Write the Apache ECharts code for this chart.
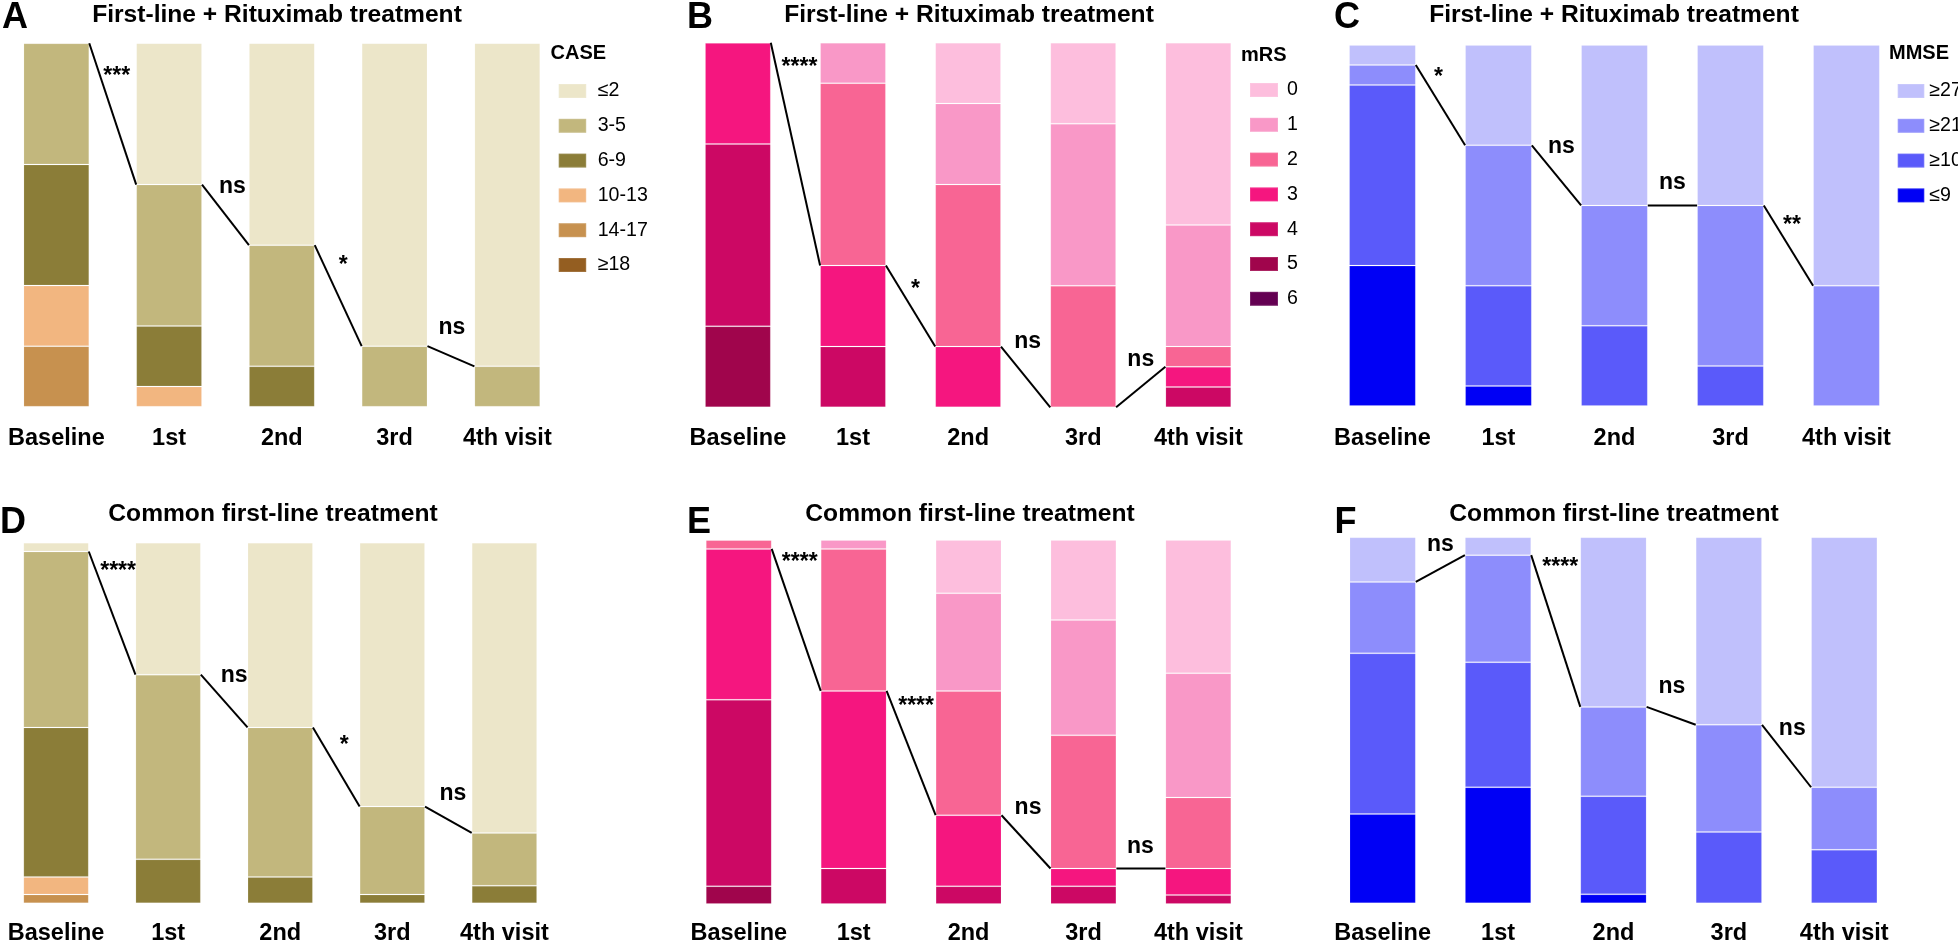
<!DOCTYPE html>
<html><head><meta charset="utf-8">
<script src="https://cdn.jsdelivr.net/npm/echarts@6/dist/echarts.min.js"></script>
<style>html,body{margin:0;padding:0;background:#fff;overflow:hidden}#c{width:1958px;height:946px}</style>
</head><body><div id="c"></div><script>
// ---------- categories ----------
const visits = ['Baseline', '1st', '2nd', '3rd', '4th visit'];
const caseCats = ['≤2', '3-5', '6-9', '10-13', '14-17', '≥18'];
const mrsCats = ['0', '1', '2', '3', '4', '5', '6'];
const mmseCats = ['≥27', '≥21', '≥10', '≤9'];

// ---------- patient counts per category (rows follow category order, columns follow visits) ----------
// First-line + Rituximab (n = 18)
const caseRitux = [
  [0, 7, 10, 15, 16],
  [6, 7, 6, 3, 2],
  [6, 3, 2, 0, 0],
  [3, 1, 0, 0, 0],
  [3, 0, 0, 0, 0],
  [0, 0, 0, 0, 0]
];
const mrsRitux = [
  [0, 0, 3, 4, 9],
  [0, 2, 4, 8, 6],
  [0, 9, 8, 6, 1],
  [5, 4, 3, 0, 1],
  [9, 3, 0, 0, 1],
  [4, 0, 0, 0, 0],
  [0, 0, 0, 0, 0]
];
const mmseRitux = [
  [1, 5, 8, 8, 12],
  [1, 7, 6, 8, 6],
  [9, 5, 4, 2, 0],
  [7, 1, 0, 0, 0]
];
// Common first-line (n = 41)
const caseCommon = [
  [1, 15, 21, 30, 33],
  [20, 21, 17, 10, 6],
  [17, 5, 3, 1, 2],
  [2, 0, 0, 0, 0],
  [1, 0, 0, 0, 0],
  [0, 0, 0, 0, 0]
];
const mrsCommon = [
  [0, 0, 6, 9, 15],
  [0, 1, 11, 13, 14],
  [1, 16, 14, 15, 8],
  [17, 20, 8, 2, 3],
  [21, 4, 2, 2, 1],
  [2, 0, 0, 0, 0],
  [0, 0, 0, 0, 0]
];
const mmseCommon = [
  [5, 2, 19, 21, 28],
  [8, 12, 10, 12, 7],
  [18, 14, 11, 8, 6],
  [10, 13, 1, 0, 0]
];

// ---------- significance labels between visits ----------
const sigA = ['***', 'ns', '*', 'ns'];
const sigB = ['****', '*', 'ns', 'ns'];
const sigC = ['*', 'ns', 'ns', '**'];
const sigD = ['****', 'ns', '*', 'ns'];
const sigE = ['****', '****', 'ns', 'ns'];
const sigF = ['ns', '****', 'ns', 'ns'];

// ---------- styles ----------
const caseColors = ['#ECE6C9', '#C2B77D', '#8B7D38', '#F2B680', '#C7914F', '#945E21'];
const mrsColors = ['#FDBEDD', '#F998C7', '#F86594', '#F5167F', '#CC0864', '#A0054C', '#640052'];
const mmseColors = ['#C0C0FC', '#8D8DFC', '#5A5AFA', '#0000F5'];
const FONT = '"Liberation Sans", Arial, Helvetica, sans-serif';

const panels = [
  {letter: 'A', title: 'First-line + Rituximab treatment', cats: caseCats, colors: caseColors, data: caseRitux, sig: sigA, split: 1,
   grid: {left: -6.63, top: 43.3, width: 570.3, height: 363.4}, bw: 65.8, margin: 20,
   letterXY: [2, 18.1], titleXY: [277, 15.2], labelY: [90.9, 60.6, 38.8, 21.8], labelDx: [4, 7, 5, 1]},
  {letter: 'B', title: 'First-line + Rituximab treatment', cats: mrsCats, colors: mrsColors, data: mrsRitux, sig: sigB, split: 3,
   grid: {left: 680.35, top: 42.7, width: 575.5, height: 364.6}, bw: 65.8, margin: 19.7,
   letterXY: [687, 18.1], titleXY: [969, 15.2], labelY: [93.2, 32.3, 18.0, 13.2], labelDx: [4, 5, 2, 0]},
  {letter: 'C', title: 'First-line + Rituximab treatment', cats: mmseCats, colors: mmseColors, data: mmseRitux, sig: sigC, split: 1,
   grid: {left: 1324.45, top: 45, width: 580, height: 361}, bw: 66.7, margin: 21,
   letterXY: [1334, 18.1], titleXY: [1614, 15.2], labelY: [91.0, 71.8, 62.0, 50.0], labelDx: [-2, 5, 0, 3.5]},
  {letter: 'D', title: 'Common first-line treatment', cats: caseCats, colors: caseColors, data: caseCommon, sig: sigD, split: 1,
   grid: {left: -9.3, top: 542.7, width: 569.75, height: 362.3}, bw: 65.4, margin: 18.7,
   letterXY: [0, 523.1], titleXY: [273, 514.6], labelY: [91.9, 63.0, 43.6, 30.4], labelDx: [6, 10, 8, 4.6]},
  {letter: 'E', title: 'Common first-line treatment', cats: mrsCats, colors: mrsColors, data: mrsCommon, sig: sigE, split: 3,
   grid: {left: 681.3, top: 540, width: 574.5, height: 366}, bw: 65.9, margin: 18,
   letterXY: [687, 523.1], titleXY: [970, 514.6], labelY: [93.7, 54.2, 26.4, 15.8], labelDx: [3.5, 5, 2, -0.6]},
  {letter: 'F', title: 'Common first-line treatment', cats: mmseCats, colors: mmseColors, data: mmseCommon, sig: sigF, split: 1,
   grid: {left: 1324.95, top: 537.3, width: 577, height: 367.7}, bw: 66.3, margin: 18.7,
   letterXY: [1334.5, 523.1], titleXY: [1614, 514.6], labelY: [98.1, 91.7, 59.1, 47.6], labelDx: [0, 4.5, 0.7, 5.7]}
];

const grids = [], xAxes = [], yAxes = [], series = [], graphics = [];

panels.forEach((p, k) => {
  const n = p.data.reduce((s, row) => s + row[0], 0);
  grids.push(Object.assign({containLabel: false}, p.grid));
  xAxes.push({type: 'category', gridIndex: k, data: visits,
    axisLine: {show: false}, axisTick: {show: false}, splitLine: {show: false},
    axisLabel: {color: '#000', fontSize: 23.5, fontWeight: 'bold', fontFamily: FONT, margin: p.margin, interval: 0}});
  yAxes.push({type: 'value', gridIndex: k, min: 0, max: n, show: false});
  for (let c = p.cats.length - 1; c >= 0; c--) {
    series.push({type: 'bar', name: p.cats[c], xAxisIndex: k, yAxisIndex: k, stack: 's' + k,
      barWidth: p.bw, data: p.data[c],
      itemStyle: {color: p.colors[c], borderColor: 'rgba(255,255,255,0.13)', borderWidth: 1},
      silent: true, animation: false});
  }
  const boundary = visits.map((_, i) => {
    let s = 0;
    for (let c = p.split; c < p.cats.length; c++) s += p.data[c][i];
    return s;
  });
  const segs = [];
  for (let i = 0; i < visits.length - 1; i++) segs.push([i, boundary[i], boundary[i + 1]]);
  series.push({type: 'custom', xAxisIndex: k, yAxisIndex: k, data: segs, clip: false, z: 10,
    silent: true, animation: false, encode: {x: 0, y: 1},
    renderItem: (params, api) => {
      const i = api.value(0);
      const a = api.coord([i, api.value(1)]);
      const b = api.coord([i + 1, api.value(2)]);
      const x0 = a[0] + p.bw / 2, x1 = b[0] - p.bw / 2;
      const j = params.dataIndex;
      const ly = api.coord([i, n * p.labelY[j] / 100])[1];
      return {type: 'group', children: [
        {type: 'line', shape: {x1: x0, y1: a[1], x2: x1, y2: b[1]}, style: {stroke: '#000', lineWidth: 2}},
        {type: 'text', x: (x0 + x1) / 2 + p.labelDx[j], y: ly,
         style: {text: p.sig[j], fill: '#000', font: 'bold 23px ' + FONT, align: 'center', verticalAlign: 'middle'}}
      ]};
    }});
  graphics.push({type: 'text', x: p.letterXY[0], y: p.letterXY[1], silent: true,
    style: {text: p.letter, fill: '#000', font: 'bold 36px ' + FONT, align: 'left', verticalAlign: 'middle'}});
  graphics.push({type: 'text', x: p.titleXY[0], y: p.titleXY[1], silent: true,
    style: {text: p.title, fill: '#000', font: 'bold 24.6px ' + FONT, align: 'center', verticalAlign: 'middle'}});
});

const legendTitles = [['CASE', 550.5, 53.6], ['mRS', 1241, 55], ['MMSE', 1889, 53.6]];
legendTitles.forEach(t => graphics.push({type: 'text', x: t[1], y: t[2], silent: true,
  style: {text: t[0], fill: '#000', font: 'bold 20px ' + FONT, align: 'left', verticalAlign: 'middle'}}));

const legendBase = {orient: 'vertical', itemHeight: 14, itemGap: 14.8, icon: 'rect', selectedMode: false};
const legendText = pad => ({fontSize: 19.6, color: '#000', fontFamily: FONT, padding: [0, 0, 0, pad], overflow: 'none'});

const option = {
  animation: false,
  backgroundColor: '#fff',
  grid: grids, xAxis: xAxes, yAxis: yAxes, series: series,
  legend: [
    Object.assign({}, legendBase, {left: 552.7, top: 76, itemWidth: 27.5, data: caseCats, textStyle: legendText(6.5)}),
    Object.assign({}, legendBase, {left: 1244, top: 75, itemWidth: 28, data: mrsCats, textStyle: legendText(4)}),
    Object.assign({}, legendBase, {left: 1891.7, top: 76, itemWidth: 26.6, data: mmseCats, textStyle: legendText(0)})
  ],
  graphic: graphics
};
const chart = echarts.init(document.getElementById('c'), null, {renderer: 'canvas'});
chart.setOption(option);
</script></body></html>
